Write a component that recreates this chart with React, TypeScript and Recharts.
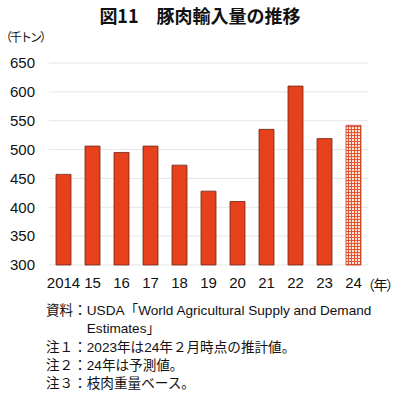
import { BarChart, Bar, XAxis, YAxis, CartesianGrid, Cell } from 'recharts';

// 豚肉輸入量（千トン）
const years = ['2014', '15', '16', '17', '18', '19', '20', '21', '22', '23', '24'];
const imports = [457, 506, 495, 506, 473, 428, 410, 535, 610, 519, 542];
const forecastYears = ['24'];
const yTicks = [300, 350, 400, 450, 500, 550, 600, 650];

const notes = [
  '資料：USDA「World Agricultural Supply and Demand',
  '　　　Estimates」',
  '注１：2023年は24年２月時点の推計値。',
  '注２：24年は予測値。',
  '注３：枝肉重量ベース。',
];

const data = years.map((year, i) => ({ year, value: imports[i] }));

const jpFont = '"Liberation Sans", "Noto Sans CJK JP", sans-serif';

export default function App() {
  return (
    <div
      style={{
        position: 'absolute',
        left: 0,
        top: 0,
        width: 400,
        height: 394,
        background: '#fff',
        fontFamily: jpFont,
        color: '#111',
      }}
    >
      <div
        style={{
          position: 'absolute',
          top: 2,
          left: 0,
          width: 400,
          textAlign: 'center',
          fontSize: 18,
          fontWeight: 'bold',
          fontFamily: '"Noto Sans CJK JP", sans-serif',
        }}
      >
        図11　豚肉輸入量の推移
      </div>
      <div
        style={{
          position: 'absolute',
          top: 28,
          left: 0,
          fontSize: 12,
          letterSpacing: -2,
          whiteSpace: 'nowrap',
          fontFamily: '"Noto Sans CJK JP", sans-serif',
        }}
      >
        （千トン）
      </div>

      <BarChart
        width={400}
        height={300}
        data={data}
        margin={{ top: 63, right: 32, left: 0, bottom: 0 }}
      >
        <defs>
          <pattern id="forecastGrid" width={3} height={3} patternUnits="userSpaceOnUse">
            <rect width={3} height={3} fill="#fbe3dc" />
            <path d="M0 0.5 H3 M0.5 0 V3" stroke="#e8532f" strokeWidth={1} />
          </pattern>
        </defs>
        <CartesianGrid vertical={false} stroke="#e6e6e6" />
        <XAxis
          dataKey="year"
          axisLine={false}
          tickLine={false}
          tickSize={0}
          tickMargin={12}
          height={35}
          interval={0}
          tick={{ fill: '#111', fontSize: 15, fontFamily: '"Liberation Sans", sans-serif' }}
        />
        <YAxis
          domain={[300, 650]}
          ticks={yTicks}
          axisLine={false}
          tickLine={false}
          tickSize={0}
          tickMargin={14}
          width={49}
          tick={{ fill: '#111', fontSize: 15, fontFamily: '"Liberation Sans", sans-serif' }}
        />
        <Bar dataKey="value" barSize={15} isAnimationActive={false}>
          {data.map((d) =>
            forecastYears.includes(d.year) ? (
              <Cell key={d.year} fill="url(#forecastGrid)" stroke="#c0392b" strokeWidth={0.8} />
            ) : (
              <Cell key={d.year} fill="#e6401c" stroke="#6e2616" strokeWidth={0.8} />
            )
          )}
        </Bar>
      </BarChart>

      <div
        style={{
          position: 'absolute',
          top: 274,
          left: 361,
          fontSize: 14,
          letterSpacing: -1.5,
          whiteSpace: 'nowrap',
          fontFamily: '"Noto Sans CJK JP", sans-serif',
        }}
      >
        （年）
      </div>

      <div
        style={{
          position: 'absolute',
          top: 302,
          left: 46,
          fontSize: 13.6,
          lineHeight: '18.3px',
          whiteSpace: 'pre',
        }}
      >
        {notes.map((n) => (
          <div key={n}>{n}</div>
        ))}
      </div>
    </div>
  );
}
